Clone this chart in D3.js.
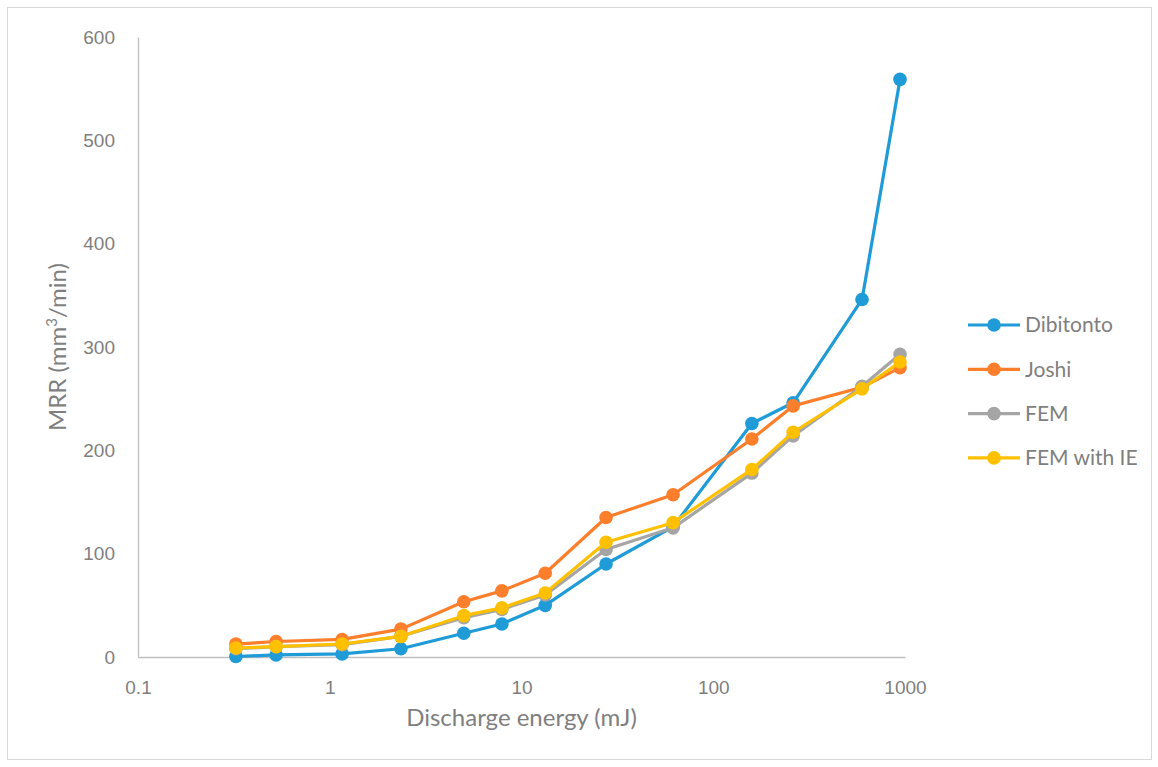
<!DOCTYPE html>
<html>
<head>
<meta charset="utf-8">
<script src="https://cdn.jsdelivr.net/npm/d3@7"></script>
<style>
  html, body { margin: 0; padding: 0; background: #fff; }
  svg { display: block; font-family: Lato, "Open Sans", sans-serif; }
</style>
</head>
<body>
<svg id="chart" width="1158" height="767"></svg>
<script>
// Discharge energy (mJ) for each measurement
const energy = [0.324, 0.525, 1.16, 2.35, 5.0, 7.9, 13.3, 27.6, 61.7, 159, 261, 597, 942];

// Material removal rate (mm³/min) per model
const dibitonto = [0.5, 2, 3, 8, 23, 32, 50, 90, 126, 226, 246, 346, 559];
const joshi     = [12.5, 15, 17, 27, 53.5, 64, 81, 135, 157, 211, 243, 261, 280];
const fem       = [8, 10, 12, 20, 38, 46, 60, 104, 125, 178, 214, 262, 293];
const femIE     = [8.7, 10, 12.6, 20, 40, 47.5, 62, 111, 130, 181.5, 217.5, 259.5, 285.5];

const seriesNames = ["Dibitonto", "Joshi", "FEM", "FEM with IE"];
const seriesColors = ["#1f9bd7", "#fd7f2c", "#a5a5a5", "#ffc000"];
const xTicks = [0.1, 1, 10, 100, 1000];
const yTicks = [0, 100, 200, 300, 400, 500, 600];

const series = [dibitonto, joshi, fem, femIE].map((vals, i) => ({
  name: seriesNames[i],
  color: seriesColors[i],
  points: vals.map((v, j) => ({ x: energy[j], y: v }))
}));

const svg = d3.select("#chart");

// outer frame
svg.append("rect")
  .attr("x", 7.5).attr("y", 7.5)
  .attr("width", 1144).attr("height", 752)
  .attr("fill", "#fff").attr("stroke", "#d9d9d9").attr("stroke-width", 1);

const x = d3.scaleLog().domain([0.1, 1000]).range([138, 905]);
const y = d3.scaleLinear().domain([0, 600]).range([657, 37]);

const textColor = "#7f7f7f";

// y axis
const yAxis = svg.append("g")
  .attr("transform", `translate(${x(0.1)},0)`)
  .call(d3.axisLeft(y).tickValues(yTicks).tickSize(0).tickPadding(23).tickFormat(d3.format("d")));
yAxis.select(".domain").attr("stroke", "#bfbfbf").attr("stroke-width", 1.3);
yAxis.selectAll("text").attr("fill", textColor).attr("font-size", 19);

// x axis
const xAxis = svg.append("g")
  .attr("transform", `translate(0,${y(0)})`)
  .call(d3.axisBottom(x).tickValues(xTicks).tickSize(0).tickPadding(24).tickFormat(d => String(d)));
xAxis.select(".domain").attr("stroke", "#bfbfbf").attr("stroke-width", 1.3);
xAxis.selectAll("text").attr("fill", textColor).attr("font-size", 19);

// axis titles
svg.append("text")
  .attr("x", (x(0.1) + x(1000)) / 2).attr("y", 726)
  .attr("text-anchor", "middle")
  .attr("fill", textColor).attr("font-size", 24)
  .text("Discharge energy (mJ)");

const yTitle = svg.append("text")
  .attr("transform", `translate(66,${(y(0) + y(600)) / 2}) rotate(-90)`)
  .attr("text-anchor", "middle")
  .attr("fill", textColor).attr("font-size", 24);
yTitle.append("tspan").text("MRR (mm");
yTitle.append("tspan").attr("font-size", 15).attr("dy", -9).text("3");
yTitle.append("tspan").attr("dy", 9).text("/min)");

// series lines and markers
const line = d3.line().x(d => x(d.x)).y(d => y(d.y));

series.forEach(s => {
  const g = svg.append("g");
  g.append("path")
    .datum(s.points)
    .attr("d", line)
    .attr("fill", "none")
    .attr("stroke", s.color)
    .attr("stroke-width", 3.2)
    .attr("stroke-linejoin", "round");
  g.selectAll("circle")
    .data(s.points)
    .join("circle")
    .attr("cx", d => x(d.x))
    .attr("cy", d => y(d.y))
    .attr("r", 6.8)
    .attr("fill", s.color);
});

// legend
const legend = svg.append("g");
series.forEach((s, i) => {
  const ly = 325 + i * 44.3;
  legend.append("line")
    .attr("x1", 968).attr("x2", 1020)
    .attr("y1", ly).attr("y2", ly)
    .attr("stroke", s.color).attr("stroke-width", 3.2);
  legend.append("circle")
    .attr("cx", 994).attr("cy", ly).attr("r", 6.8)
    .attr("fill", s.color);
  legend.append("text")
    .attr("x", 1025).attr("y", ly)
    .attr("dy", "0.35em")
    .attr("fill", textColor).attr("font-size", 21)
    .text(s.name);
});
</script>
</body>
</html>
